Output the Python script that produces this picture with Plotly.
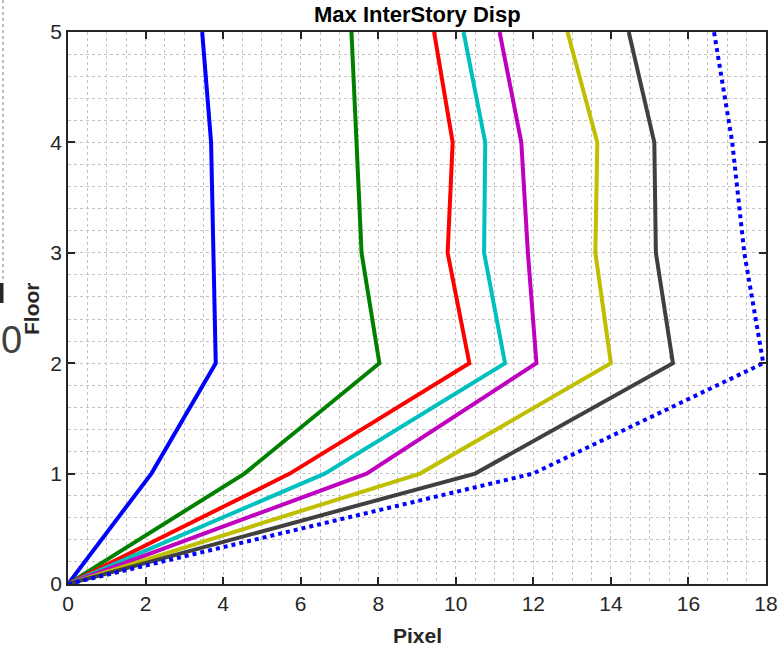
import plotly.graph_objects as go

floors = [0, 1, 2, 3, 4, 5]
disp_1 = [0, 2.15, 3.81, 3.75, 3.69, 3.46]
disp_2 = [0, 4.55, 8.03, 7.57, 7.44, 7.31]
disp_3 = [0, 5.72, 10.35, 9.79, 9.92, 9.44]
disp_4 = [0, 6.62, 11.27, 10.73, 10.76, 10.20]
disp_5 = [0, 7.70, 12.08, 11.86, 11.69, 11.13]
disp_6 = [0, 9.08, 14.00, 13.60, 13.65, 12.88]
disp_7 = [0, 10.50, 15.60, 15.16, 15.12, 14.46]
disp_8 = [0, 11.99, 17.93, 17.44, 17.13, 16.66]

x_ticks = [0, 2, 4, 6, 8, 10, 12, 14, 16, 18]
y_ticks = [0, 1, 2, 3, 4, 5]

series = [
    (disp_1, "#0000FF", "solid"),
    (disp_2, "#008000", "solid"),
    (disp_3, "#FF0000", "solid"),
    (disp_4, "#00BFBF", "solid"),
    (disp_5, "#BF00BF", "solid"),
    (disp_6, "#BFBF00", "solid"),
    (disp_7, "#404040", "solid"),
    (disp_8, "#0000FF", "dot"),
]

fig = go.Figure()
for vals, col, dash in series:
    fig.add_trace(go.Scatter(x=vals, y=floors, mode="lines",
                             line=dict(color=col, width=4, dash=dash),
                             showlegend=False))

tickfont = dict(family="Liberation Sans Narrow, Liberation Sans, Arial", size=21, color="#262626")
grid_common = dict(gridcolor="#C4C4C4", griddash="dot", gridwidth=1)

fig.update_xaxes(range=[0, 18], tickvals=x_ticks, ticks="inside", ticklen=7, tickwidth=1.5,
                 tickcolor="#262626", showline=True, linecolor="#262626", linewidth=1.5,
                 mirror="allticks", tickfont=tickfont, showgrid=True, zeroline=False,
                 automargin=False,
                 minor=dict(dtick=0.5, showgrid=True, **grid_common), **grid_common)
fig.update_yaxes(range=[0, 5], tickvals=y_ticks, ticks="inside", ticklen=7, tickwidth=1.5,
                 tickcolor="#262626", showline=True, linecolor="#262626", linewidth=1.5,
                 mirror="allticks", tickfont=tickfont, showgrid=True, zeroline=False,
                 automargin=False,
                 minor=dict(dtick=0.2, showgrid=True, **grid_common), **grid_common)

W, H = 784, 653
L, R, T, B = 68, 18, 32, 69
pw, ph = W - L - R, H - T - B

def px(xp):
    return (xp - L) / pw

def py(yp):
    return (H - B - yp) / ph

fig.update_layout(
    width=W, height=H,
    margin=dict(l=L, r=R, t=T, b=B),
    plot_bgcolor="white", paper_bgcolor="white",
    annotations=[
        dict(text="<b>Max InterStory Disp</b>", x=0.5, y=py(15), xref="paper", yref="paper",
             showarrow=False, xanchor="center", yanchor="middle",
             font=dict(family="Liberation Sans, Arial", size=22, color="#000000")),
        dict(text="<b>Pixel</b>", x=0.5, y=py(635), xref="paper", yref="paper",
             showarrow=False, xanchor="center", yanchor="middle",
             font=dict(family="Liberation Sans, Arial", size=21, color="#262626")),
        dict(text="<b>Floor</b>", x=px(31), y=py(309), xref="paper", yref="paper",
             showarrow=False, xanchor="center", yanchor="middle", textangle=-90,
             font=dict(family="Liberation Sans, Arial", size=21, color="#262626")),
        dict(text="0", x=px(24), y=py(340), xref="paper", yref="paper",
             showarrow=False, xanchor="right", yanchor="middle",
             font=dict(family="Liberation Sans Narrow, Liberation Sans, Arial", size=38, color="#404040")),
    ],
    shapes=[
        dict(type="line", xref="paper", yref="paper", x0=px(3), x1=px(3), y0=py(0), y1=py(280),
             line=dict(color="#BDBDBD", width=2, dash="dot")),
        dict(type="rect", xref="paper", yref="paper", x0=px(0), x1=px(3.5), y0=py(303), y1=py(283),
             line=dict(width=0), fillcolor="#262626"),
    ],
)

fig.write_html("out.html", config={"displayModeBar": False},
               post_script="document.body.style.margin='0';document.body.style.overflow='hidden';")
